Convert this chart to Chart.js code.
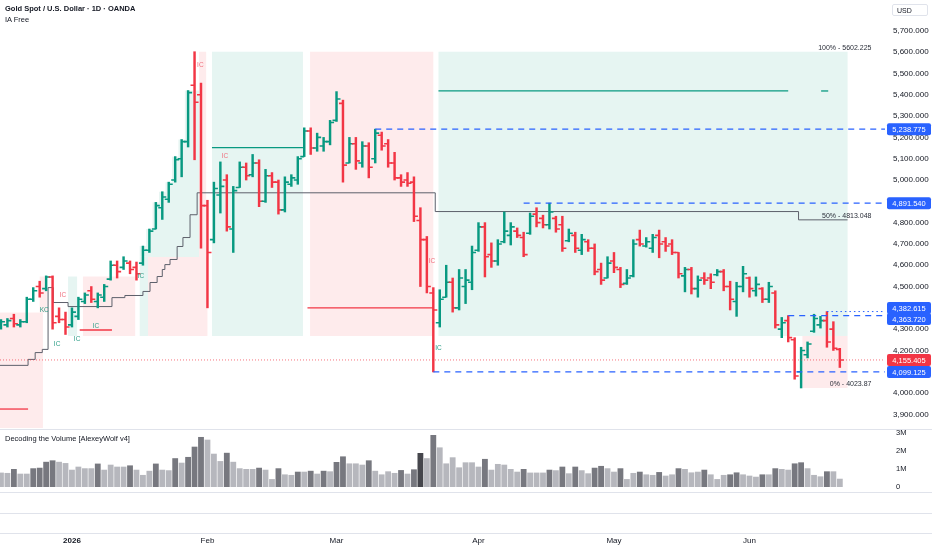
<!DOCTYPE html>
<html>
<head>
<meta charset="utf-8">
<script src="https://cdn.jsdelivr.net/npm/chart.js@4.4.1/dist/chart.umd.min.js"></script>
<style>
  html, body { margin: 0; padding: 0; background: #fff; }
  body { width: 932px; height: 550px; position: relative; overflow: hidden; font-family: "Liberation Sans", sans-serif; color: #131722; }
  canvas { position: absolute; left: 0; }
  #main { top: 0; }
  #vol { top: 428px; }
  .sep { position: absolute; left: 0; width: 932px; height: 1px; background: #e0e3eb; }
  .txt { position: absolute; left: 5px; white-space: nowrap; }
  #title { top: 4px; font-size: 7.5px; font-weight: bold; }
  #sub { top: 15px; font-size: 7.5px; }
  #pane { top: 434px; font-size: 7.5px; }
  #usd { position: absolute; left: 892px; top: 4px; width: 36px; height: 12px; border: 1px solid #e0e3eb; border-radius: 2px; font-size: 7px; line-height: 12px; padding-left: 4px; box-sizing: border-box; }
</style>
</head>
<body>
<canvas id="main" width="932" height="428"></canvas>
<canvas id="vol" width="932" height="122"></canvas>
<div class="sep" style="top:429px"></div>
<div class="sep" style="top:492px"></div>
<div class="sep" style="top:513px"></div>
<div class="sep" style="top:533px"></div>
<div id="title" class="txt">Gold Spot / U.S. Dollar · 1D · OANDA</div>
<div id="sub" class="txt">IA Free</div>
<div id="pane" class="txt">Decoding the Volume [AlexeyWolf v4]</div>
<div id="usd">USD</div>
<script>
// Daily bars, mid-Dec 2025 to 19 Jun 2026 (index = trading day)
const opens = [4310,4320,4350,4320,4335,4440,4500,4490,4545,4360, 4345,4320,4360,4430,4480,4430,4450,4535,4600,4590,
  4610,4590,4610,4670,4770,4870,4910,5000,5100,5180, 5445,5400,4880,4720,4930,5000,4770,4965,5060,5025,
  5080,4900,5020,4990,4860,4980,5000,5110,5230,5150, 5160,5180,5280,5360,5080,5170,5080,5160,5100,5210,
  5170,5080,5010,5000,4990,4810,4720,4470,4330,4450, 4520,4400,4500,4520,4670,4780,4650,4620,4710,4740,
  4760,4730,4750,4840,4820,4790,4820,4790,4715,4740, 4670,4710,4680,4580,4540,4620,4580,4515,4550,4720,
  4690,4680,4740,4710,4700,4660,4550,4580,4490,4540, 4540,4555,4570,4500,4430,4500,4540,4480,4490,4440,
  4470,4300,4340,4250,4100,4180,4290,4320,4340,4300, 4205];
const highs = [4345,4350,4370,4345,4450,4495,4525,4550,4550,4400, 4380,4400,4450,4470,4500,4470,4510,4620,4620,4640,
  4620,4615,4690,4770,4895,4945,4990,5110,5190,5420, 5602.225,5455,4905,4990,5085,5025,4970,5085,5080,5120,
  5095,5050,5035,5000,5015,5025,5110,5245,5245,5220, 5200,5280,5415,5375,5200,5200,5180,5175,5238.775,5225,
  5190,5130,5025,5035,5015,4870,4735,4495,4485,4600, 4540,4580,4580,4690,4800,4800,4705,4720,4850,4800,
  4775,4755,4845,4870,4835,4891.54,4830,4830,4770,4755, 4745,4720,4700,4610,4640,4660,4590,4580,4720,4765,
  4730,4745,4765,4730,4720,4660,4590,4590,4550,4565, 4560,4580,4580,4525,4520,4595,4545,4545,4495,4520,
  4480,4355,4363.72,4260,4215,4240,4370,4360,4382.615,4335, 4210];
const lows = [4300,4310,4310,4310,4330,4430,4450,4480,4300,4330, 4275,4310,4345,4420,4425,4400,4430,4530,4540,4580,
  4560,4530,4600,4660,4770,4815,4895,4990,5015,5155, 5095,4680,4400,4705,4845,4760,4660,4965,5000,5015,
  4875,4895,4965,4840,4850,4970,4980,5110,5120,5135, 5135,5165,5275,4990,5080,5050,5060,5010,5080,5140,
  5060,5000,4970,4970,4805,4500,4470,4099.125,4310,4450, 4380,4390,4420,4485,4665,4545,4590,4600,4705,4695,
  4730,4640,4745,4780,4775,4770,4755,4665,4710,4660, 4650,4665,4555,4510,4540,4565,4495,4510,4545,4690,
  4685,4660,4635,4665,4650,4540,4475,4465,4450,4510, 4490,4550,4480,4390,4360,4475,4450,4455,4425,4425,
  4305,4260,4240,4065,4023.87,4165,4285,4305,4215,4200, 4120];
const closes = [4335,4340,4325,4335,4440,4480,4470,4545,4330,4345, 4310,4380,4440,4460,4440,4460,4500,4600,4570,4620,
  4580,4560,4670,4760,4880,4920,4980,5095,5180,5410, 5365,4880,4660,4960,4970,4780,4950,5060,5020,5080,
  4900,5020,4990,4860,4990,5010,5100,5230,5150,5200, 5180,5270,5380,5070,5170,5090,5160,5060,5220,5160,
  5080,5010,4990,4985,4830,4720,4500,4390,4440,4520, 4400,4540,4530,4660,4780,4640,4620,4700,4760,4780,
  4740,4650,4830,4800,4790,4850,4770,4680,4750,4680, 4720,4680,4570,4530,4610,4590,4510,4540,4700,4700,
  4710,4730,4700,4690,4660,4560,4580,4490,4530,4530, 4520,4570,4500,4440,4500,4560,4490,4510,4440,4500,
  4320,4330,4260,4080,4200,4230,4350,4340,4240,4210, 4155.405];

// Volume (millions) and its colour class: L light, D dark, X darkest
const volumes = [0.8, 0.78,1.0,0.74,0.74,1.04,1.07,1.4,1.48,1.4,1.33, 0.96,1.13,1.04,1.04,1.3,0.96,1.24,1.13,1.13,1.2,
  0.96,0.67,0.9,1.3,0.96,0.93,1.6,1.35,1.67,2.24, 2.78,2.63,1.85,1.44,1.9,1.4,1.04,1.0,1.0,1.07,
  0.96,0.44,1.04,0.7,0.67,0.85,0.85,0.9,0.74,0.9, 0.87,1.39,1.7,1.31,1.31,1.24,1.48,0.9,0.7,0.87,
  0.78,0.94,0.74,0.98,1.89,1.6,2.89,2.2,1.31,1.65, 1.09,1.37,
  1.37,1.13,1.56,0.96,1.28,1.24,1.0,0.85,1.0,0.8, 0.8,0.8,0.96,0.93,1.13,0.76,1.13,0.93,0.76,1.07,
  1.17,1.04,0.85,1.04,0.44,0.78,0.85,0.7,0.67,0.83, 0.63,0.7,1.04,1.0,0.81,0.85,0.96,0.7,0.44,0.67,
  0.7,0.81,0.7,0.63,0.57,0.7,0.7,1.04,1.0,0.96, 1.31,1.37,1.04,0.67,0.59,0.87,0.87,0.46];
const volumeTypes = ('L' + 'LDLLDDDDLL' + 'LLLLDLLLLD' + 'LLLDLLDLDD' + 'DLLLDLLLLD' + 'LLDLLDLDLD' + 'LDDLLLDLLL' + 'LDLDXLDLLL' + 'LL'
  + 'LLDLLLLLDL' + 'LLDLDLDLLD' + 'DLLDLLDLLD' + 'LLDLLLDLLL' + 'DDLLLDLDLL' + 'DDLLLDLL').split('');

const monthTickIdx = [11, 32, 52, 74, 95, 116];
const monthLabels = ['2026', 'Feb', 'Mar', 'Apr', 'May', 'Jun'];
const priceTicks = [3900, 4000, 4100, 4200, 4300, 4400, 4500, 4600, 4700, 4800, 4900, 5000, 5100, 5200, 5300, 5400, 5500, 5600, 5700];
const volumeTicks = [0, 1, 2, 3];

// Stepped trailing line: change points (bar index, level)
const stepIdx = [-0.15, 4.2, 5.3, 6.4, 7.3, 8.1, 10.4, 17.2, 19.2, 22.0, 23.1, 24.2, 25.0, 25.4, 26.2, 27.3, 28.2, 29.3, 30.4, 67.3, 123.6, 131.2];
const stepLevel = [4130, 4158, 4190, 4205, 4495, 4425, 4406, 4448, 4458, 4477, 4519, 4547, 4580, 4603, 4627, 4688, 4730, 4837, 4940, 4852, 4813.048, 4813.048];

// Shaded zones: start/end bar index, top/bottom price, side
const zoneStart  = [-0.15, 6.0, 10.4, 12.7, 21.5, 22.8, 21.5, 22.5, 23.5, 24.5, 25.5, 26.5, 27.5, 28.5, 30.7, 32.7, 47.9, 67.8, 124.2];
const zoneEnd    = [6.5, 7.1, 11.8, 20.8, 22.8, 32.0, 30.7, 30.7, 30.7, 30.7, 30.7, 30.7, 30.7, 30.7, 31.8, 46.8, 67.0, 131.2, 131.2];
const zoneTop    = [4378, 4547, 4547, 4547, 4640, 4640, 4690, 4770, 4895, 4945, 4990, 5110, 5190, 5420, 5602.225, 5602.225, 5602.225, 5602.225, 4268];
const zoneBottom = [3836, 4378, 4268, 4268, 4268, 4268, 4640, 4640, 4640, 4640, 4640, 4640, 4640, 4640, 4268, 4268, 4268, 4268, 4023.87];
const zoneKind   = ['bear', 'bear', 'bull', 'bear', 'bull', 'bear', 'bull', 'bull', 'bull', 'bull', 'bull', 'bull', 'bull', 'bull', 'bear', 'bull', 'bear', 'bull', 'bear'];

// Solid horizontal segments
const segStart = [32.7, 67.8, 127.1, 47.5, -0.15, 12.2];
const segEnd   = [46.8, 122.0, 128.2, 67.0, 4.2, 17.2];
const segPrice = [5152, 5418, 5418, 4400, 3925, 4296];
const segKind  = ['bull', 'bull', 'bull', 'bear', 'bear', 'bear'];

// Blue levels (dashed / dotted) to the price scale
const levelPrice = [5238.775, 4891.54, 4382.615, 4363.72, 4099.125];
const levelStart = [58, 81, 128, 122, 67];
const levelDotted = [false, false, true, false, false];
const lastPrice = 4155.405;

const fibPrice = [5602.225, 4813.048, 4023.87];
const fibName = ['100%', '50%', '0%'];

const signalIdx   = [30.9, 34.7, 66.8, 67.8, 21.7, 6.7, 9.6, 14.7, 8.7, 11.8];
const signalPrice = [5540, 5113, 4620, 4212, 4550, 4390, 4460, 4315, 4230, 4254];
const signalText  = ['IC', 'IC', 'IC', 'IC', 'IC', 'KC', 'IC', 'IC', 'IC', 'IC'];
const signalKind  = ['bear', 'bear', 'bear', 'bull', 'bull', 'bull', 'bear', 'bull', 'bull', 'bull'];

const GREEN = '#089981', RED = '#F23645', BLUE = '#2962FF';
const xMin = -0.15, xMax = 137;

Chart.defaults.font.family = "'Liberation Sans', sans-serif";
Chart.defaults.color = '#131722';
Chart.defaults.animation = false;

function fmtPrice(v) {
  return v.toLocaleString('en-US', { minimumFractionDigits: 3, maximumFractionDigits: 3 });
}
function noPad(axis) {
  axis.paddingTop = 0; axis.paddingBottom = 0; axis.paddingLeft = 0; axis.paddingRight = 0;
}

const barColors = closes.map((c, i) => (c >= opens[i] ? GREEN : RED));

const overlayPlugin = {
  id: 'overlay',
  beforeDatasetsDraw(chart) {
    const { ctx, chartArea: a } = chart;
    const x = chart.scales.x, y = chart.scales.y;
    ctx.save();
    ctx.beginPath();
    ctx.rect(a.left, a.top, a.right - a.left, a.bottom - a.top);
    ctx.clip();
    zoneStart.forEach((s, i) => {
      const x0 = x.getPixelForValue(s), x1 = x.getPixelForValue(zoneEnd[i]);
      const y0 = y.getPixelForValue(zoneTop[i]), y1 = y.getPixelForValue(zoneBottom[i]);
      ctx.fillStyle = zoneKind[i] === 'bull' ? '#e6f5f2' : '#feebec';
      ctx.fillRect(x0, y0, x1 - x0, y1 - y0);
    });
    ctx.lineWidth = 1.3;
    segStart.forEach((s, i) => {
      const py = y.getPixelForValue(segPrice[i]);
      ctx.strokeStyle = segKind[i] === 'bull' ? GREEN : RED;
      ctx.beginPath();
      ctx.moveTo(x.getPixelForValue(s), py);
      ctx.lineTo(x.getPixelForValue(segEnd[i]), py);
      ctx.stroke();
    });
    ctx.restore();
  },
  afterDatasetsDraw(chart) {
    const { ctx, chartArea: a } = chart;
    const x = chart.scales.x, y = chart.scales.y;
    ctx.save();
    // open / close ticks
    ctx.lineWidth = 1.6;
    opens.forEach((o, i) => {
      const px = x.getPixelForValue(i);
      ctx.strokeStyle = barColors[i];
      ctx.beginPath();
      ctx.moveTo(px - 4, y.getPixelForValue(o));
      ctx.lineTo(px, y.getPixelForValue(o));
      ctx.moveTo(px, y.getPixelForValue(closes[i]));
      ctx.lineTo(px + 4, y.getPixelForValue(closes[i]));
      ctx.stroke();
    });
    // blue levels
    levelPrice.forEach((p, i) => {
      const py = y.getPixelForValue(p);
      ctx.strokeStyle = BLUE;
      ctx.lineWidth = levelDotted[i] ? 1 : 1.3;
      ctx.setLineDash(levelDotted[i] ? [1.5, 3] : [6, 5]);
      ctx.beginPath();
      ctx.moveTo(x.getPixelForValue(levelStart[i]), py);
      ctx.lineTo(a.right, py);
      ctx.stroke();
    });
    // last price
    ctx.strokeStyle = 'rgba(242,54,69,0.7)';
    ctx.lineWidth = 1;
    ctx.setLineDash([1, 2]);
    ctx.beginPath();
    ctx.moveTo(a.left, y.getPixelForValue(lastPrice));
    ctx.lineTo(a.right, y.getPixelForValue(lastPrice));
    ctx.stroke();
    ctx.setLineDash([]);
    // signal labels
    ctx.font = "6.5px 'Liberation Sans', sans-serif";
    ctx.textAlign = 'center';
    ctx.textBaseline = 'middle';
    signalIdx.forEach((s, i) => {
      ctx.fillStyle = signalKind[i] === 'bull' ? '#2e9e88' : '#f0707f';
      ctx.fillText(signalText[i], x.getPixelForValue(s), y.getPixelForValue(signalPrice[i]));
    });
    // fib labels
    ctx.font = "7px 'Liberation Sans', sans-serif";
    ctx.fillStyle = '#2a2e39';
    ctx.textAlign = 'right';
    fibPrice.forEach((p, i) => {
      ctx.fillText(fibName[i] + ' - ' + p, x.getPixelForValue(134.9), y.getPixelForValue(p) - 4);
    });
    ctx.restore();
  },
  afterDraw(chart) {
    const { ctx, chartArea: a } = chart;
    const y = chart.scales.y;
    const tags = levelPrice.map(p => ({ p, c: BLUE })).concat([{ p: lastPrice, c: RED }]);
    tags.forEach(t => { t.y = y.getPixelForValue(t.p); });
    tags.sort((m, n) => m.y - n.y);
    for (let k = 1; k < tags.length; k++) {
      if (tags[k].y - tags[k - 1].y < 11) {
        const mid = (tags[k].y + tags[k - 1].y) / 2;
        tags[k - 1].y = mid - 5.5;
        tags[k].y = mid + 5.5;
      }
    }
    ctx.save();
    ctx.font = "7.5px 'Liberation Sans', sans-serif";
    ctx.textAlign = 'center';
    ctx.textBaseline = 'middle';
    tags.forEach(t => {
      ctx.fillStyle = t.c;
      ctx.beginPath();
      ctx.roundRect(a.right + 2, t.y - 6, 44, 12, 2);
      ctx.fill();
      ctx.fillStyle = '#fff';
      ctx.fillText(fmtPrice(t.p), a.right + 24, t.y + 0.5);
    });
    ctx.restore();
  }
};

new Chart(document.getElementById('main'), {
  type: 'bar',
  data: {
    datasets: [
      {
        type: 'bar',
        data: highs.map((h, i) => ({ x: i, y: [lows[i], h] })),
        backgroundColor: barColors,
        barThickness: 1.8,
        order: 0
      },
      {
        type: 'line',
        data: stepIdx.map((s, i) => ({ x: s, y: stepLevel[i] })),
        stepped: true,
        borderColor: '#5d606b',
        borderWidth: 1,
        pointRadius: 0,
        fill: false,
        order: 1
      }
    ]
  },
  options: {
    responsive: false,
    layout: { padding: 0 },
    plugins: { legend: { display: false }, tooltip: { enabled: false } },
    scales: {
      x: { type: 'linear', min: xMin, max: xMax, offset: false, display: false },
      y: {
        position: 'right',
        min: 3836,
        max: 5845,
        grid: { display: false, drawTicks: false },
        border: { display: false },
        afterBuildTicks: axis => { axis.ticks = priceTicks.map(v => ({ value: v })); },
        afterFit: axis => { axis.width = 47; noPad(axis); },
        ticks: { padding: 8, font: { size: 8 }, callback: v => fmtPrice(v) }
      }
    }
  },
  plugins: [overlayPlugin]
});

const volColors = { L: '#b6b7bd', D: '#77787f', X: '#45464c' };

new Chart(document.getElementById('vol'), {
  type: 'bar',
  data: {
    datasets: [{
      data: volumes.map((v, i) => ({ x: i, y: v })),
      backgroundColor: volumeTypes.map(t => volColors[t]),
      barPercentage: 0.9,
      categoryPercentage: 1
    }]
  },
  options: {
    responsive: false,
    layout: { padding: { top: 2, bottom: 4, left: 0, right: 0 } },
    plugins: { legend: { display: false }, tooltip: { enabled: false } },
    scales: {
      x: {
        type: 'linear', min: xMin, max: xMax, offset: false,
        grid: { display: false, drawTicks: false },
        border: { display: false },
        afterBuildTicks: axis => { axis.ticks = monthTickIdx.map(v => ({ value: v })); },
        afterFit: axis => { axis.height = 13; noPad(axis); },
        ticks: {
          autoSkip: false, maxRotation: 0, minRotation: 0, padding: 3,
          font: c => ({ size: 8, weight: c.index === 0 ? 'bold' : 'normal' }),
          callback: (v, i) => monthLabels[i]
        }
      },
      y: {
        position: 'right',
        min: -2.556,
        max: 3.167,
        grid: { display: false, drawTicks: false },
        border: { display: false },
        afterBuildTicks: axis => { axis.ticks = volumeTicks.map(v => ({ value: v })); },
        afterFit: axis => { axis.width = 47; noPad(axis); },
        ticks: { padding: 11, font: { size: 7.5 }, callback: v => (v === 0 ? '0' : v + 'M') }
      }
    }
  }
});
</script>
</body>
</html>
